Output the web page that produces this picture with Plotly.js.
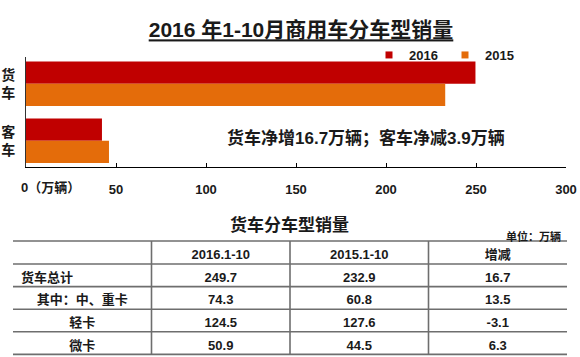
<!DOCTYPE html>
<html>
<head>
<meta charset="utf-8">
<script src="https://cdn.plot.ly/plotly-3.0.1.min.js"></script>
<style>html,body{margin:0;padding:0;background:#fff;}#chart{width:580px;height:357px;}</style>
</head>
<body>
<div id="chart"></div>
<script>
// ---- chart data ----
const categories = ['货车', '客车'];
const categoryLabels = ['货<br>车', '客<br>车'];
const seriesNames = ['2016', '2015'];
const sales2016 = [249.7, 42.2];
const sales2015 = [232.9, 46.1];
const xTickVals = [0, 50, 100, 150, 200, 250, 300];
const xTickText = ['', '50', '100', '150', '200', '250', '300'];

// ---- table data ----
const tableHeader = ['', '2016.1-10', '2015.1-10', '增减'];
const rowLabels = ['货车总计', '其中：中、重卡', '轻卡', '微卡'];
const col2016 = [249.7, 74.3, 124.5, 50.9];
const col2015 = [232.9, 60.8, 127.6, 44.5];
const colChange = [16.7, 13.5, -3.1, 6.3];

const W = 580, H = 357;
const FONT = 'Liberation Sans, Arial, Noto Sans CJK SC, sans-serif';
const C2016 = '#C00000', C2015 = '#E46C0A';
const px = v => v / W;
const py = v => 1 - v / H;

const traces = [
  {type: 'bar', orientation: 'h', name: seriesNames[0], y: categories, x: sales2016,
   marker: {color: C2016}, showlegend: false, hoverinfo: 'x'},
  {type: 'bar', orientation: 'h', name: seriesNames[1], y: categories, x: sales2015,
   marker: {color: C2015}, showlegend: false, hoverinfo: 'x'},
  {type: 'scatter', mode: 'markers', name: seriesNames[0], x: [null], y: [null],
   marker: {symbol: 'square', size: 7, color: C2016}, showlegend: true},
  {type: 'scatter', mode: 'markers', name: seriesNames[1], x: [null], y: [null],
   marker: {symbol: 'square', size: 7, color: C2015}, showlegend: true}
];

// table geometry
const tLeft = 13, tRight = 567, tTop = 241, headerH = 23, rowH = 22.6;
const tBottom = tTop + headerH + rowH * rowLabels.length;
traces.push({
  type: 'table',
  domain: {x: [px(tLeft), px(tRight)], y: [py(tBottom + 1), py(tTop)]},
  columnwidth: [1, 1, 1, 1],
  header: {
    values: tableHeader,
    height: headerH,
    align: 'center',
    fill: {color: 'rgba(0,0,0,0)'},
    line: {width: 0, color: 'rgba(0,0,0,0)'},
    font: {family: FONT, size: 13, color: '#1a1a1a', weight: 'bold'}
  },
  cells: {
    values: [rowLabels, col2016, col2015, colChange],
    format: ['', '.1f', '.1f', '.1f'],
    height: rowH,
    align: [['left', 'center', 'center', 'center'], 'center', 'center', 'center'],
    fill: {color: 'rgba(0,0,0,0)'},
    line: {width: 0, color: 'rgba(0,0,0,0)'},
    font: {family: FONT, size: 13, color: '#1a1a1a', weight: 'bold'}
  }
});

// table rules
const shapes = [];
const lineColor = '#6e6e6e';
for (let i = 0; i <= rowLabels.length + 1; i++) {
  const y = i === 0 ? tTop : tTop + headerH + rowH * (i - 1);
  shapes.push({type: 'line', xref: 'paper', yref: 'paper', x0: px(tLeft), x1: px(tRight),
    y0: py(y), y1: py(y), line: {color: lineColor, width: 1.6}});
}
const colW = (tRight - tLeft) / 4;
for (let c = 1; c < 4; c++) {
  const x = tLeft + colW * c;
  shapes.push({type: 'line', xref: 'paper', yref: 'paper', x0: px(x), x1: px(x),
    y0: py(tTop), y1: py(tBottom), line: {color: lineColor, width: 1.6}});
}

const layout = {
  width: W, height: H,
  margin: {l: 0, r: 0, t: 0, b: 0, pad: 0, autoexpand: false},
  paper_bgcolor: '#fff', plot_bgcolor: '#fff',
  font: {family: FONT, color: '#1a1a1a'},
  title: {
    text: '2016 年1-10月商用车分车型销量',
    x: px(301), xanchor: 'center', y: py(30), yanchor: 'middle',
    font: {family: FONT, size: 21, weight: 'bold', color: '#1a1a1a', lineposition: 'under'}
  },
  barmode: 'group', bargap: 0.22, bargroupgap: 0,
  xaxis: {
    domain: [px(26), px(566)], range: [0, 300], fixedrange: true,
    tickvals: xTickVals, ticktext: xTickText,
    ticks: 'inside', ticklen: 4, tickcolor: '#000', tickwidth: 1,
    showline: true, linecolor: '#000', linewidth: 1,
    showgrid: false, zeroline: false, automargin: false,
    ticklabelstandoff: 10,
    tickfont: {family: FONT, size: 13, weight: 'bold', color: '#1a1a1a'}
  },
  yaxis: {
    domain: [py(167), py(57)], type: 'category',
    range: [1.46, -0.47], fixedrange: true,
    tickvals: categories, ticktext: categoryLabels,
    ticks: '', showline: true, linecolor: '#333', linewidth: 1,
    showgrid: false, zeroline: false, automargin: false,
    ticklabelstandoff: 7,
    tickfont: {family: FONT, size: 14, weight: 'bold', color: '#1a1a1a'}
  },
  showlegend: true,
  legend: {
    orientation: 'h', x: px(369), xanchor: 'left', y: py(55), yanchor: 'middle',
    bgcolor: 'rgba(0,0,0,0)', borderwidth: 0, entrywidth: 31, entrywidthmode: 'pixels',
    font: {family: FONT, size: 13, weight: 'bold', color: '#1a1a1a'}
  },
  annotations: [
    {xref: 'paper', yref: 'paper', x: px(19), y: py(187), xanchor: 'left', yanchor: 'middle',
     text: '0（万辆）', showarrow: false,
     font: {family: FONT, size: 13, weight: 'bold', color: '#1a1a1a'}},
    {xref: 'paper', yref: 'paper', x: px(366), y: py(138), xanchor: 'center', yanchor: 'middle',
     text: '货车净增16.7万辆；客车净减3.9万辆', showarrow: false,
     font: {family: FONT, size: 17, weight: 'bold', color: '#1a1a1a'}},
    {xref: 'paper', yref: 'paper', x: px(289), y: py(225), xanchor: 'center', yanchor: 'middle',
     text: '货车分车型销量', showarrow: false,
     font: {family: FONT, size: 17, weight: 'bold', color: '#1a1a1a'}},
    {xref: 'paper', yref: 'paper', x: px(563), y: py(236), xanchor: 'right', yanchor: 'middle',
     text: '单位：万辆', showarrow: false,
     font: {family: FONT, size: 11, weight: 'bold', color: '#1a1a1a'}}
  ],
  shapes: shapes
};

Plotly.newPlot('chart', traces, layout, {displayModeBar: false, staticPlot: true});
</script>
</body>
</html>
